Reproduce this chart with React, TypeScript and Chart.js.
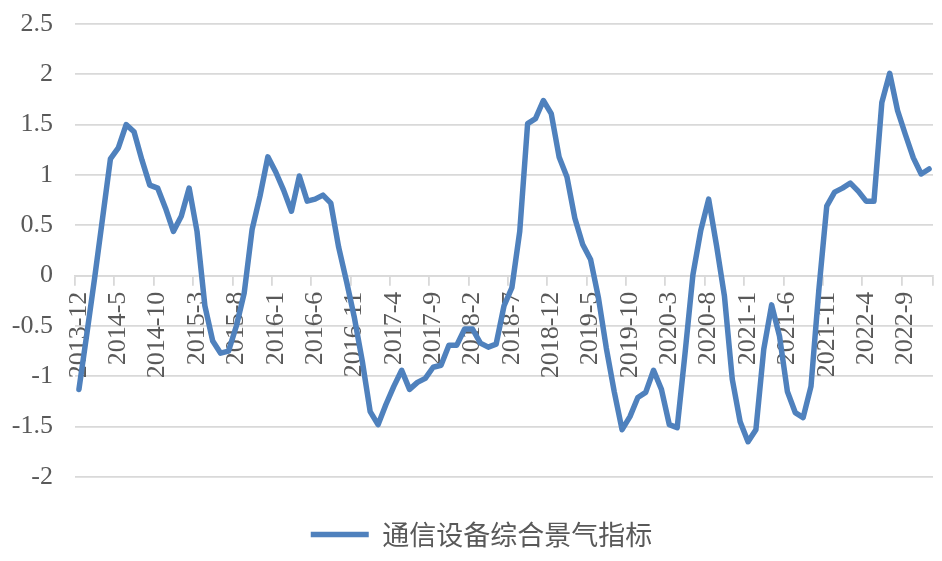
import React, { useEffect, useRef } from 'react';
import { Chart, registerables } from 'chart.js';

Chart.register(...registerables);

// Monthly categories, 2013-12 … 2022-12
const categories: string[] = [
  '2013-12',
  '2014-1', '2014-2', '2014-3', '2014-4', '2014-5', '2014-6', '2014-7', '2014-8', '2014-9', '2014-10', '2014-11', '2014-12',
  '2015-1', '2015-2', '2015-3', '2015-4', '2015-5', '2015-6', '2015-7', '2015-8', '2015-9', '2015-10', '2015-11', '2015-12',
  '2016-1', '2016-2', '2016-3', '2016-4', '2016-5', '2016-6', '2016-7', '2016-8', '2016-9', '2016-10', '2016-11', '2016-12',
  '2017-1', '2017-2', '2017-3', '2017-4', '2017-5', '2017-6', '2017-7', '2017-8', '2017-9', '2017-10', '2017-11', '2017-12',
  '2018-1', '2018-2', '2018-3', '2018-4', '2018-5', '2018-6', '2018-7', '2018-8', '2018-9', '2018-10', '2018-11', '2018-12',
  '2019-1', '2019-2', '2019-3', '2019-4', '2019-5', '2019-6', '2019-7', '2019-8', '2019-9', '2019-10', '2019-11', '2019-12',
  '2020-1', '2020-2', '2020-3', '2020-4', '2020-5', '2020-6', '2020-7', '2020-8', '2020-9', '2020-10', '2020-11', '2020-12',
  '2021-1', '2021-2', '2021-3', '2021-4', '2021-5', '2021-6', '2021-7', '2021-8', '2021-9', '2021-10', '2021-11', '2021-12',
  '2022-1', '2022-2', '2022-3', '2022-4', '2022-5', '2022-6', '2022-7', '2022-8', '2022-9', '2022-10', '2022-11', '2022-12',
];

const seriesName = '通信设备综合景气指标';

const indexValues: number[] = [
  -1.13, -0.58, -0.02, 0.57, 1.16, 1.27, 1.50, 1.43, 1.15, 0.90,
  0.87, 0.67, 0.44, 0.59, 0.87, 0.44, -0.30, -0.65, -0.77, -0.75,
  -0.50, -0.17, 0.46, 0.79, 1.18, 1.03, 0.85, 0.64, 0.99, 0.74,
  0.76, 0.80, 0.72, 0.28, -0.06, -0.42, -0.85, -1.35, -1.48, -1.28,
  -1.10, -0.94, -1.13, -1.06, -1.02, -0.91, -0.89, -0.69, -0.69, -0.53,
  -0.53, -0.67, -0.71, -0.68, -0.30, -0.12, 0.44, 1.51, 1.56, 1.74,
  1.61, 1.18, 0.98, 0.57, 0.31, 0.16, -0.22, -0.72, -1.15, -1.53,
  -1.40, -1.21, -1.16, -0.94, -1.13, -1.48, -1.51, -0.77, 0.01, 0.45,
  0.76, 0.30, -0.20, -1.03, -1.45, -1.65, -1.53, -0.73, -0.29, -0.60,
  -1.15, -1.36, -1.41, -1.10, -0.14, 0.69, 0.83, 0.87, 0.92, 0.84,
  0.74, 0.74, 1.72, 2.01, 1.64, 1.40, 1.17, 1.01, 1.06,
];

const yMin = -2;
const yMax = 2.5;
const yStep = 0.5;
const labelEvery = 5;

// keep the y-axis label clip region open to the canvas edge
const yLabelClipFix = {
  id: 'yLabelClipFix',
  afterLayout(chart: any) {
    const y = chart.scales.y;
    if (y) y.left = 0;
  },
};

export default function App() {
  const ref = useRef<HTMLCanvasElement>(null);

  useEffect(() => {
    const gridGray = '#d9d9d9';
    const textGray = '#595959';
    const blue = '#4F81BD';
    const serif = "'Liberation Serif', 'Times New Roman', serif";

    const chart = new Chart(ref.current!, {
      type: 'line',
      data: {
        labels: categories,
        datasets: [
          {
            label: seriesName,
            data: indexValues,
            borderColor: blue,
            backgroundColor: blue,
            borderWidth: 5.5,
            pointRadius: 0,
            pointHoverRadius: 0,
            tension: 0,
            borderCapStyle: 'round',
            borderJoinStyle: 'round',
            fill: false,
          },
        ],
      },
      plugins: [yLabelClipFix],
      options: {
        responsive: false,
        animation: false,
        devicePixelRatio: 1,
        events: [],
        layout: { padding: { left: 30, right: 9, top: 24, bottom: 3 } },
        plugins: {
          legend: {
            position: 'bottom',
            title: { display: true, text: '', font: { size: 10 }, padding: { top: 28, bottom: 0 } },
            labels: {
              usePointStyle: true,
              pointStyle: 'line',
              pointStyleWidth: 58,
              padding: 4,
              color: textGray,
              font: { family: "'Noto Sans CJK SC', sans-serif", size: 27 },
            },
          },
          tooltip: { enabled: false },
        },
        scales: {
          x: {
            type: 'category',
            position: { y: 0 },
            offset: true,
            grid: {
              offset: true,
              drawOnChartArea: false,
              drawTicks: true,
              tickLength: 9,
              lineWidth: 1.8,
              tickWidth: 1.8,
              color: gridGray,
              tickColor: (ctx: any) =>
                ctx.index === undefined || ctx.index % labelEvery === 0 ? gridGray : 'rgba(0,0,0,0)',
            },
            border: { display: true, color: gridGray, width: 1.8 },
            ticks: {
              autoSkip: false,
              maxRotation: 90,
              minRotation: 90,
              padding: 7,
              color: textGray,
              font: { family: serif, size: 26 },
              callback: (_v: any, i: number) => (i % labelEvery === 0 ? categories[i] : ''),
            },
            afterFit: (s: any) => {
              s.height = 0;
              s.paddingLeft = 0;
              s.paddingRight = 0;
            },
          },
          y: {
            min: yMin,
            max: yMax,
            ticks: {
              stepSize: yStep,
              padding: 22,
              color: textGray,
              font: { family: serif, size: 26 },
              callback: (v: any) => String(v),
            },
            grid: { color: gridGray, lineWidth: 1.8, drawTicks: false },
            border: { display: false },
            afterFit: (s: any) => {
              s.width = 45;
              s.paddingTop = 0;
              s.paddingBottom = 0;
            },
          },
        },
      },
    } as any);

    return () => chart.destroy();
  }, []);

  return (
    <canvas
      ref={ref}
      width={942}
      height={561}
      style={{ position: 'absolute', left: 0, top: 0, display: 'block' }}
    />
  );
}
